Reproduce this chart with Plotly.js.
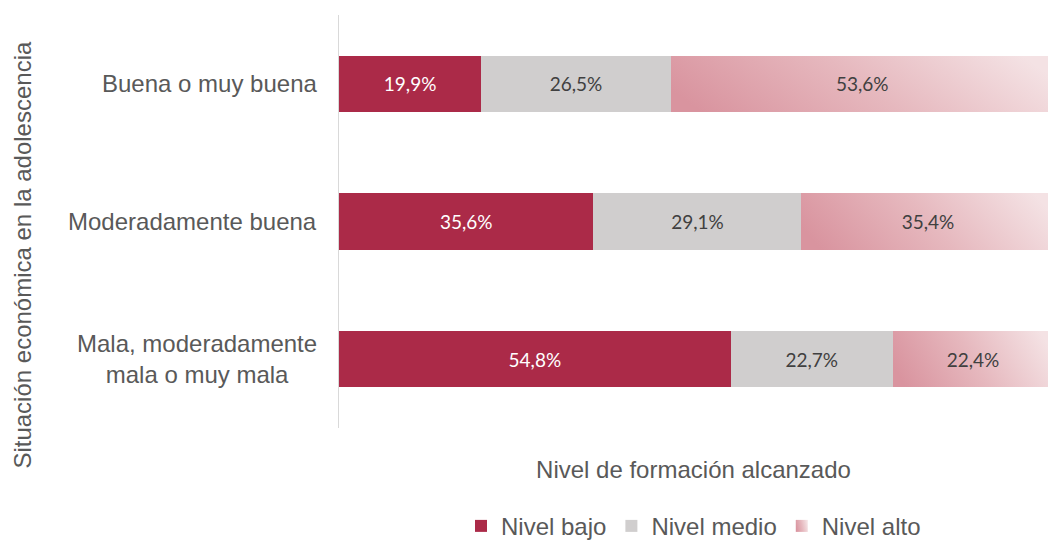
<!DOCTYPE html>
<html>
<head>
<meta charset="utf-8">
<script src="https://cdn.plot.ly/plotly-3.0.1.min.js"></script>
<style>html,body{margin:0;padding:0;background:#fff;}#chart{width:1048px;height:541px;}</style>
</head>
<body>
<div id="chart"></div>
<script>
const categories = ["Buena o muy buena", "Moderadamente buena", "Mala, moderadamente mala o muy mala"];
const categoryLabels = ["Buena o muy buena", "Moderadamente buena", "Mala, moderadamente<br>mala o muy mala"];
const nivelBajo = [19.9, 35.6, 54.8];
const nivelMedio = [26.5, 29.1, 22.7];
const nivelAlto = [53.6, 35.4, 22.4];
const seriesNames = ["Nivel bajo", "Nivel medio", "Nivel alto"];
const yTitle = "Situación económica en la adolescencia";
const xTitle = "Nivel de formación alcanzado";

const labelFont = {family: "Lato, sans-serif", size: 19};
function barTrace(vals, name, color, txtColor) {
  return {
    type: "bar", orientation: "h", y: categories, x: vals, name: name,
    marker: {color: color, line: {width: 0}}, width: 0.41,
    text: vals, texttemplate: "%{x:.1f}%", textposition: "inside",
    insidetextanchor: "middle", textangle: 0,
    textfont: Object.assign({color: txtColor}, labelFont),
    hoverinfo: "skip"
  };
}
const data = [
  barTrace(nivelBajo, seriesNames[0], "#ab2a48", "#ffffff"),
  barTrace(nivelMedio, seriesNames[1], "#d0cece", "#404040"),
  barTrace(nivelAlto, seriesNames[2], "#e6b3ba", "#404040")
];
const axFont = {family: "Liberation Sans, Arial, sans-serif", size: 24, color: "#595959"};
const annotations = categories.map((c, i) => ({
  xref: "paper", x: 0, xshift: -20, xanchor: "right",
  yref: "y", y: c, yanchor: "middle",
  text: categoryLabels[i], align: "center", showarrow: false, font: axFont
}));
annotations.push({
  xref: "paper", x: -0.447, xanchor: "center", yref: "paper", y: 0.42, yanchor: "middle",
  text: yTitle, textangle: -90, showarrow: false, font: axFont
});
const layout = {
  width: 1048, height: 541,
  margin: {l: 339, r: 0, t: 15, b: 113, autoexpand: false},
  paper_bgcolor: "#ffffff", plot_bgcolor: "#ffffff",
  barmode: "stack", separators: ",.",
  font: axFont,
  xaxis: {range: [0, 99.2], showticklabels: false, showgrid: false, zeroline: false, showline: false, ticks: "",
          title: {text: xTitle, font: axFont, standoff: 33}},
  yaxis: {type: "category", range: [2.5, -0.5], showticklabels: false, showgrid: false, zeroline: false,
          showline: true, linecolor: "#d9d9d9", linewidth: 1, ticks: ""},
  showlegend: true,
  legend: {orientation: "h", x: 0.5, xanchor: "center", y: -0.238, yanchor: "middle", font: axFont,
           traceorder: "normal", itemclick: false},
  annotations: annotations
};
Plotly.newPlot("chart", data, layout, {displayModeBar: false, staticPlot: true}).then(gd => {
  const svgNS = "http://www.w3.org/2000/svg";
  const svg = gd.querySelector("svg.main-svg");
  let defs = svg.querySelector("defs");
  if (!defs) { defs = document.createElementNS(svgNS, "defs"); svg.insertBefore(defs, svg.firstChild); }
  const grad = document.createElementNS(svgNS, "linearGradient");
  grad.setAttribute("id", "altoGrad");
  grad.setAttribute("x1", "0"); grad.setAttribute("y1", "0.6");
  grad.setAttribute("x2", "1"); grad.setAttribute("y2", "0.4");
  [["0", "#d9949f"], ["0.5", "#e6b8be"], ["1", "#f4e2e4"]].forEach(([o, c]) => {
    const s = document.createElementNS(svgNS, "stop");
    s.setAttribute("offset", o); s.setAttribute("stop-color", c);
    grad.appendChild(s);
  });
  defs.appendChild(grad);
  const traces = gd.querySelectorAll(".barlayer .trace");
  if (traces[2]) traces[2].querySelectorAll("path").forEach(p => { p.style.fill = "url(#altoGrad)"; });
  const leg = gd.querySelectorAll(".legend .traces");
  if (leg[2]) leg[2].querySelectorAll(".legendpoints path").forEach(p => { p.style.fill = "url(#altoGrad)"; });
});
</script>
</body>
</html>
